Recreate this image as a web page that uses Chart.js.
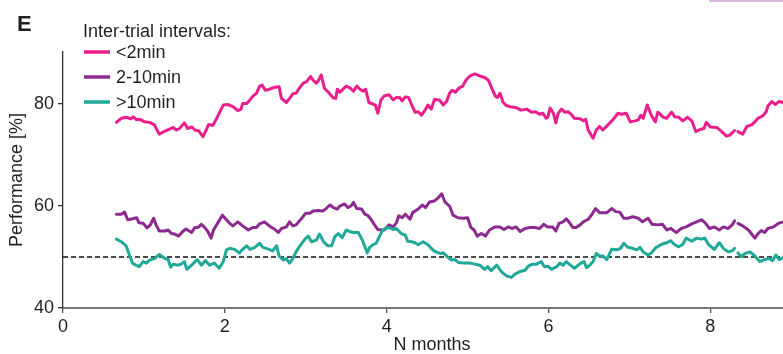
<!DOCTYPE html>
<html>
<head>
<meta charset="utf-8">
<title>Performance by inter-trial interval</title>
<script src="https://cdn.jsdelivr.net/npm/chart.js@4.4.1/dist/chart.umd.min.js"></script>
<style>
  html, body { margin: 0; padding: 0; background: #fff; overflow: hidden; width: 783px; height: 354px; }
  #wrap { position: relative; width: 783px; height: 354px; overflow: hidden; }
  #wrap canvas { position: absolute; left: 0; top: 0; }
  #edge { position: absolute; left: 709px; top: 0; width: 74px; height: 2px; background: #dcb4e0; }
</style>
</head>
<body>
<div id="wrap">
  <canvas id="chart" width="801" height="354" style="width:801px;height:354px"></canvas>
  <div id="edge"></div>
</div>
<script>
// ---- data -------------------------------------------------------------
const PANEL = 'E';
const LEGEND_TITLE = 'Inter-trial intervals:';
const SERIES_LABELS = ['<2min', '2-10min', '>10min'];
const CHANCE = 50;
const xTicks = [0, 2, 4, 6, 8];
const yTicks = [40, 60, 80];

// <2min (null marks the break in the record)
const shortMonths = [0.66,0.72,0.78,0.84,0.87,0.91,0.95,1.01,1.07,1.13,1.19,1.26,1.32,1.36,1.40,1.44,1.50,1.54,1.59,1.63,1.68,1.73,1.77,1.80,1.85,1.89,1.94,1.98,2.04,2.10,2.16,2.20,2.22,2.27,2.31,2.35,2.39,2.43,2.46,2.50,2.55,2.62,2.67,2.70,2.76,2.80,2.84,2.88,2.92,2.97,3.01,3.06,3.09,3.13,3.16,3.19,3.23,3.28,3.34,3.37,3.39,3.42,3.46,3.50,3.55,3.59,3.63,3.67,3.71,3.74,3.78,3.83,3.86,3.89,3.93,3.97,4.03,4.08,4.12,4.16,4.19,4.23,4.27,4.31,4.35,4.39,4.43,4.47,4.51,4.55,4.59,4.65,4.70,4.74,4.78,4.81,4.85,4.89,4.94,4.98,5.03,5.09,5.15,5.21,5.26,5.29,5.34,5.37,5.40,5.44,5.48,5.54,5.60,5.66,5.73,5.79,5.84,5.89,5.93,5.97,5.99,6.02,6.06,6.09,6.12,6.16,6.20,6.24,6.28,6.32,6.39,6.43,6.46,6.49,6.55,6.59,6.63,6.67,6.74,6.80,6.86,6.90,6.96,7.01,7.07,7.11,7.14,7.17,7.22,7.27,7.32,7.35,7.42,7.46,7.52,7.56,7.61,7.66,7.72,7.77,7.82,7.87,7.92,7.95,8.00,8.08,8.14,8.20,8.24,8.30,8.32,8.34,8.40,8.45,8.51,8.55,8.59,8.65,8.69,8.71,8.76,8.80,8.85,8.90];
const shortPerf = [76.4,77.2,77.4,77.1,77.5,76.9,77.0,76.5,76.4,75.9,74.1,74.7,75.1,75.4,74.9,75.2,76.3,75.2,75.5,74.9,74.7,73.6,74.9,76.0,75.8,76.9,78.5,79.8,79.9,79.5,78.7,79.0,80.1,80.1,80.8,81.6,82.1,83.5,83.7,82.7,82.9,83.3,83.4,81.1,80.3,81.1,82.0,82.1,83.1,84.1,84.4,85.4,84.7,84.1,84.7,85.7,83.1,82.3,81.2,81.1,82.9,82.3,82.9,83.5,83.1,82.5,83.5,82.9,82.5,82.9,80.3,80.0,79.8,78.2,80.8,81.6,81.8,80.8,81.3,81.3,80.6,81.4,81.3,79.8,78.4,78.5,77.8,78.7,79.8,79.0,80.9,80.8,79.8,80.5,82.2,82.7,82.3,83.1,83.5,84.7,85.5,85.9,85.5,85.2,84.6,83.4,81.6,81.3,82.1,80.3,79.7,79.4,79.3,78.8,79.0,78.4,78.5,78.0,78.2,77.2,77.4,79.2,78.2,76.3,78.2,79.0,78.4,78.5,78.0,77.2,77.1,76.7,77.0,74.9,73.3,74.9,75.6,74.9,76.0,77.0,78.2,78.0,78.2,76.5,76.7,76.9,77.8,77.2,79.8,77.8,76.5,78.4,77.4,77.2,78.4,77.5,77.4,76.7,77.4,76.7,74.6,75.0,75.2,76.4,75.5,75.4,74.6,73.7,73.9,74.8,null,74.6,74.1,75.6,75.9,76.5,77.2,77.7,78.5,79.6,80.5,79.9,80.5,80.3];

// 2-10min
const midMonths = [0.66,0.72,0.76,0.80,0.86,0.91,0.94,0.99,1.04,1.08,1.12,1.15,1.19,1.26,1.30,1.34,1.38,1.43,1.48,1.52,1.59,1.63,1.67,1.71,1.75,1.79,1.83,1.86,1.91,1.97,2.02,2.06,2.10,2.16,2.22,2.29,2.35,2.39,2.43,2.49,2.55,2.62,2.66,2.70,2.76,2.80,2.84,2.88,2.95,3.00,3.05,3.09,3.15,3.21,3.25,3.30,3.34,3.39,3.42,3.48,3.52,3.56,3.59,3.63,3.69,3.73,3.77,3.81,3.85,3.89,3.93,3.97,4.03,4.08,4.12,4.15,4.19,4.23,4.29,4.32,4.39,4.44,4.48,4.53,4.59,4.63,4.68,4.72,4.78,4.82,4.88,4.94,5.00,5.04,5.08,5.12,5.17,5.22,5.27,5.34,5.40,5.45,5.50,5.55,5.60,5.65,5.71,5.77,5.83,5.89,5.94,5.99,6.05,6.09,6.13,6.18,6.22,6.26,6.30,6.34,6.39,6.43,6.49,6.53,6.58,6.63,6.67,6.72,6.78,6.83,6.88,6.93,6.98,7.04,7.11,7.16,7.23,7.28,7.35,7.41,7.46,7.51,7.58,7.64,7.70,7.77,7.83,7.89,7.93,7.99,8.05,8.11,8.16,8.22,8.27,8.30,8.32,8.34,8.40,8.47,8.51,8.55,8.59,8.63,8.67,8.71,8.78,8.84,8.90];
const midPerf = [58.4,58.4,58.8,57.3,57.5,57.7,56.7,56.6,55.7,56.3,57.6,56.3,55.1,55.1,55.3,54.6,54.5,54.1,55.0,55.5,54.8,55.8,55.8,56.4,55.8,55.0,53.7,55.3,56.6,58.2,57.3,56.6,56.1,56.9,56.1,55.3,55.8,55.8,56.5,56.9,56.1,55.4,54.8,55.6,55.9,56.9,56.1,56.3,57.6,58.6,58.6,59.0,59.1,59.0,59.5,60.2,59.7,59.4,60.0,60.4,59.7,60.0,60.7,59.5,59.4,58.4,58.1,57.3,56.3,55.4,55.3,55.3,56.3,55.9,56.7,58.1,57.7,58.4,57.4,58.7,59.4,60.2,59.7,60.8,61.0,61.5,62.4,60.8,59.9,58.2,57.7,57.6,57.7,55.8,55.3,54.1,54.6,54.1,55.3,55.9,55.9,55.4,55.9,55.6,55.9,55.0,55.6,55.8,55.8,55.6,56.4,55.9,55.9,55.1,56.6,56.9,57.5,56.7,55.8,55.8,56.3,56.9,57.4,58.2,59.5,58.7,58.7,58.7,59.5,58.9,58.8,57.6,57.6,57.9,57.6,56.9,57.6,56.4,56.3,56.4,55.3,55.6,54.8,55.6,55.9,56.5,56.9,57.3,56.8,55.6,55.9,55.3,55.9,55.6,56.3,57.1,null,56.6,56.1,55.3,54.5,53.7,54.6,55.2,54.8,55.6,55.9,56.6,56.9];

// >10min
const longMonths = [0.66,0.72,0.78,0.82,0.86,0.90,0.94,0.99,1.03,1.07,1.13,1.19,1.26,1.30,1.33,1.36,1.42,1.46,1.50,1.53,1.59,1.66,1.71,1.76,1.81,1.87,1.93,1.98,2.02,2.06,2.12,2.18,2.22,2.27,2.31,2.37,2.43,2.47,2.53,2.59,2.64,2.67,2.72,2.76,2.80,2.84,2.88,2.92,2.99,3.03,3.07,3.13,3.17,3.22,3.27,3.32,3.36,3.40,3.45,3.50,3.54,3.59,3.65,3.70,3.76,3.79,3.83,3.87,3.91,3.95,4.02,4.08,4.12,4.18,4.23,4.26,4.31,4.35,4.39,4.45,4.51,4.57,4.61,4.66,4.70,4.74,4.80,4.84,4.89,4.96,5.03,5.09,5.15,5.21,5.25,5.29,5.36,5.42,5.48,5.54,5.59,5.64,5.71,5.75,5.80,5.85,5.91,5.95,5.99,6.04,6.10,6.14,6.18,6.22,6.27,6.32,6.39,6.44,6.47,6.51,6.55,6.59,6.63,6.67,6.72,6.78,6.84,6.89,6.93,6.98,7.04,7.09,7.13,7.17,7.23,7.27,7.33,7.40,7.46,7.51,7.56,7.61,7.66,7.70,7.77,7.83,7.89,7.93,7.98,8.05,8.11,8.16,8.22,8.27,8.30,8.32,8.34,8.38,8.43,8.49,8.55,8.61,8.67,8.72,8.77,8.81,8.85,8.90];
const longPerf = [53.5,53.0,52.2,50.4,48.8,48.4,48.1,49.1,48.8,49.4,49.7,50.5,49.7,49.5,48.0,48.6,48.4,48.6,49.1,47.6,48.4,49.5,48.4,49.3,48.4,48.8,47.8,49.1,51.4,51.7,51.5,50.8,51.5,52.2,51.5,51.9,52.7,51.9,51.6,51.2,52.2,50.2,49.4,49.7,48.8,49.7,51.0,52.0,53.5,54.1,53.0,53.3,54.5,53.0,52.2,52.2,54.0,54.6,53.8,55.3,55.0,54.8,54.8,53.3,50.8,51.9,52.4,52.7,54.0,55.3,55.8,55.4,55.6,54.6,54.3,53.1,53.0,52.8,52.4,53.0,52.4,51.4,51.0,50.7,50.8,50.2,49.4,49.5,48.9,48.8,48.8,48.6,48.4,47.6,48.1,47.3,48.4,47.1,46.3,46.0,46.7,47.1,47.4,48.2,48.6,48.6,49.1,48.1,48.2,47.6,48.1,48.8,48.4,49.1,48.4,47.8,48.7,49.1,47.9,48.4,49.1,50.7,50.2,50.2,49.5,51.5,51.4,51.7,52.7,51.9,51.7,51.4,51.9,51.0,50.4,50.8,51.9,52.5,52.8,53.2,52.4,52.0,52.5,53.7,53.1,53.7,53.5,53.7,52.4,51.5,52.8,51.7,51.0,51.2,51.7,null,50.8,50.1,50.7,51.0,50.2,49.1,49.5,49.7,49.3,50.4,49.5,49.9];

// ---- styling ----------------------------------------------------------
const COLORS = ['#EA1E8C', '#8C2A8F', '#20A898'];
const TEXT = '#231f20';
const FONT = '"Liberation Sans", Arial, Helvetica, sans-serif';
const X_MAX = 9.12;
const Y_MIN = 40, Y_MAX = 90.2;

const toPoints = (xs, ys) => xs.map((x, i) => ({ x, y: ys[i] }));

const lineDataset = (label, xs, ys, color, order) => ({
  label, data: toPoints(xs, ys), inLegend: true,
  borderColor: color, backgroundColor: color, borderWidth: 3,
  pointRadius: 0, tension: 0, spanGaps: false, order,
  borderJoinStyle: 'round', borderCapStyle: 'round'
});

const datasets = [
  lineDataset(SERIES_LABELS[0], shortMonths, shortPerf, COLORS[0], 2),
  lineDataset(SERIES_LABELS[1], midMonths, midPerf, COLORS[1], 3),
  lineDataset(SERIES_LABELS[2], longMonths, longPerf, COLORS[2], 1),
  {
    label: 'chance', inLegend: false, order: 9,
    data: [{ x: 0, y: CHANCE }, { x: X_MAX, y: CHANCE }],
    borderColor: '#111', borderWidth: 1.6, borderDash: [5, 3],
    pointRadius: 0, tension: 0
  }
];

// Panel letter and the in-plot legend
const panelText = {
  id: 'panelText',
  afterDraw(chart) {
    const { ctx } = chart;
    ctx.save();
    ctx.fillStyle = TEXT;
    ctx.textAlign = 'left';
    ctx.textBaseline = 'alphabetic';
    ctx.font = 'bold 22px ' + FONT;
    ctx.fillText(PANEL, 17, 31);

    ctx.font = '18px ' + FONT;
    ctx.fillText(LEGEND_TITLE, 83, 37);

    let row = 0;
    chart.data.datasets.forEach(ds => {
      if (!ds.inLegend) return;
      const y = 52 + row * 25;
      ctx.strokeStyle = ds.borderColor;
      ctx.lineWidth = 3.5;
      ctx.lineCap = 'butt';
      ctx.beginPath();
      ctx.moveTo(84, y);
      ctx.lineTo(110, y);
      ctx.stroke();
      ctx.fillStyle = TEXT;
      ctx.textBaseline = 'middle';
      ctx.fillText(ds.label, 116, y + 1);
      row++;
    });
    ctx.restore();
  }
};

new Chart(document.getElementById('chart'), {
  type: 'line',
  data: { datasets },
  options: {
    responsive: false,
    animation: false,
    devicePixelRatio: 1,
    layout: { padding: { top: 52, right: 0, bottom: 0, left: 0 } },
    plugins: { legend: { display: false }, tooltip: { enabled: false } },
    scales: {
      x: {
        type: 'linear', min: 0, max: X_MAX,
        afterBuildTicks: s => { s.ticks = xTicks.map(v => ({ value: v })); },
        afterFit: s => { s.height = 46; },
        ticks: { padding: 3, color: TEXT, font: { family: FONT, size: 18 }, maxRotation: 0 },
        grid: { display: true, drawOnChartArea: false, drawTicks: true, tickLength: 5, color: '#555', lineWidth: 1.3 },
        border: { display: true, color: '#777', width: 2 },
        title: { display: true, text: 'N months', color: TEXT, padding: 0, font: { family: FONT, size: 18, lineHeight: 1 } }
      },
      y: {
        type: 'linear', min: Y_MIN, max: Y_MAX,
        afterBuildTicks: s => { s.ticks = yTicks.map(v => ({ value: v })); },
        afterFit: s => { s.width = 63; },
        ticks: { padding: 4, color: TEXT, font: { family: FONT, size: 18 } },
        grid: { display: true, drawOnChartArea: false, drawTicks: true, tickLength: 5, color: '#333', lineWidth: 1.3 },
        border: { display: true, color: '#333', width: 1.3 },
        title: { display: true, text: 'Performance [%]', color: TEXT, padding: { top: 6, bottom: 0 }, font: { family: FONT, size: 18, lineHeight: 1.2 } }
      }
    }
  },
  plugins: [panelText]
});
</script>
</body>
</html>
